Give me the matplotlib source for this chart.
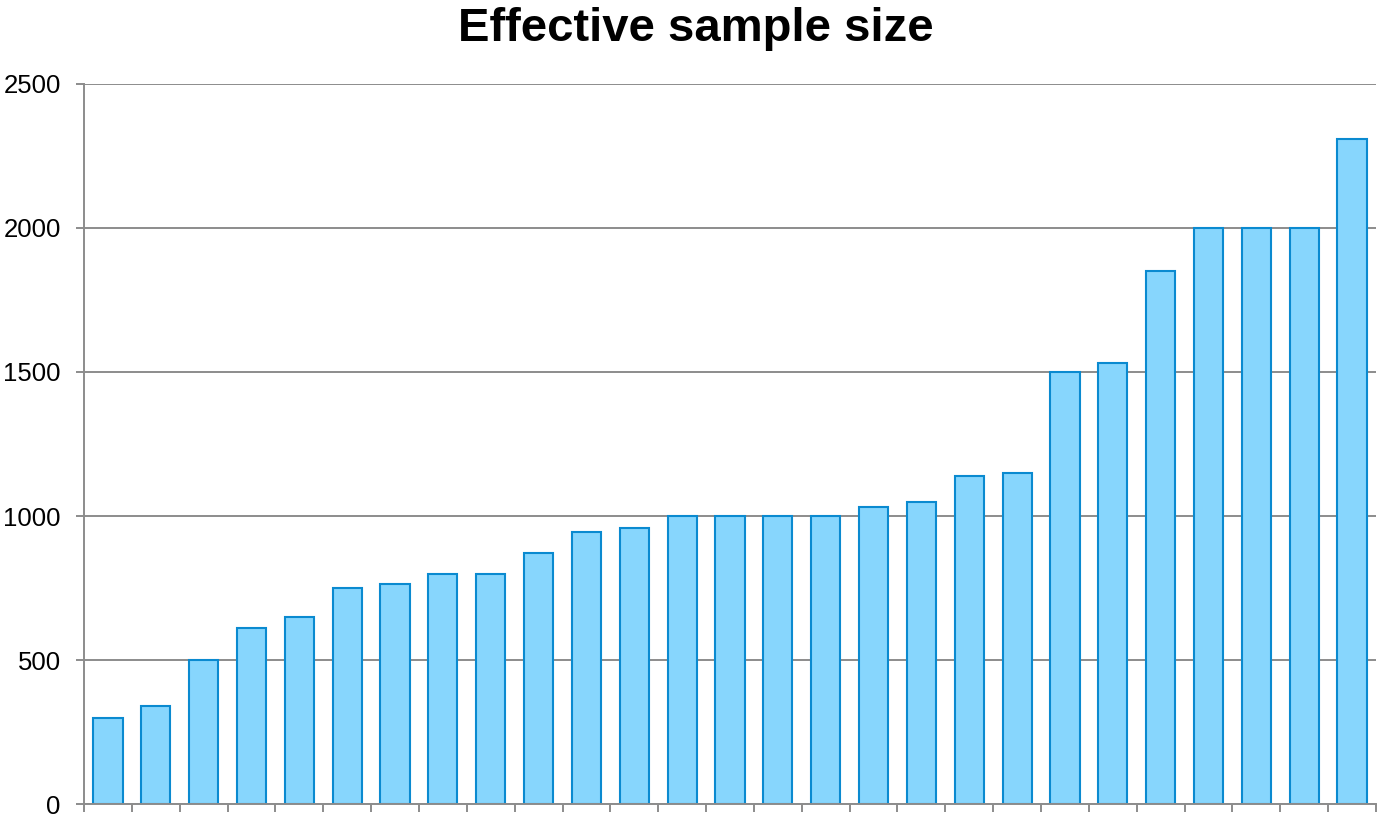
import numpy as np
import matplotlib
matplotlib.use('Agg')
import matplotlib.pyplot as plt

plt.rcParams['font.family'] = ['Liberation Sans', 'DejaVu Sans']

title = 'Effective sample size'
values = [300, 340, 500, 610, 650, 750, 765, 800, 800, 870, 945, 960,
          1000, 1000, 1000, 1000, 1030, 1050, 1140, 1150, 1500, 1530,
          1850, 2000, 2000, 2000, 2310]
yticks = [0, 500, 1000, 1500, 2000, 2500]

grid_color = '#8c8c8c'
fill_color = '#87d6fd'
edge_color = '#0a8ad0'

fig = plt.figure(figsize=(13.77, 8.18), dpi=100)
ax = fig.add_axes([84 / 1377, 14 / 818, 1292 / 1377, 720 / 818])

x = np.arange(len(values))
ax.bar(x, values, width=0.61, color=fill_color, edgecolor=edge_color,
       linewidth=1.5, zorder=3)

ax.set_xlim(-0.5, len(values) - 0.5)
ax.set_ylim(0, 2500)
ax.set_yticks(yticks)
ax.set_xticks(np.arange(len(values) + 1) - 0.5)
ax.set_xticklabels([])

ax.grid(axis='y', color=grid_color, linewidth=1.4, zorder=0)
ax.set_axisbelow(True)
for side in ['top', 'right']:
    ax.spines[side].set_visible(False)
for side in ['left', 'bottom']:
    ax.spines[side].set_color(grid_color)
    ax.spines[side].set_linewidth(1.4)
    ax.spines[side].set_zorder(4)

ax.tick_params(axis='both', color=grid_color, width=1.4, length=5.8,
               direction='out')
ax.tick_params(axis='y', labelsize=18.5, pad=11)

# title centred on the figure, not the axes
fig.text(696 / 1377, 1 - 41 / 818, title, fontsize=34, fontweight='bold',
         ha='center', va='baseline')

fig.savefig('out.png', dpi=100)
